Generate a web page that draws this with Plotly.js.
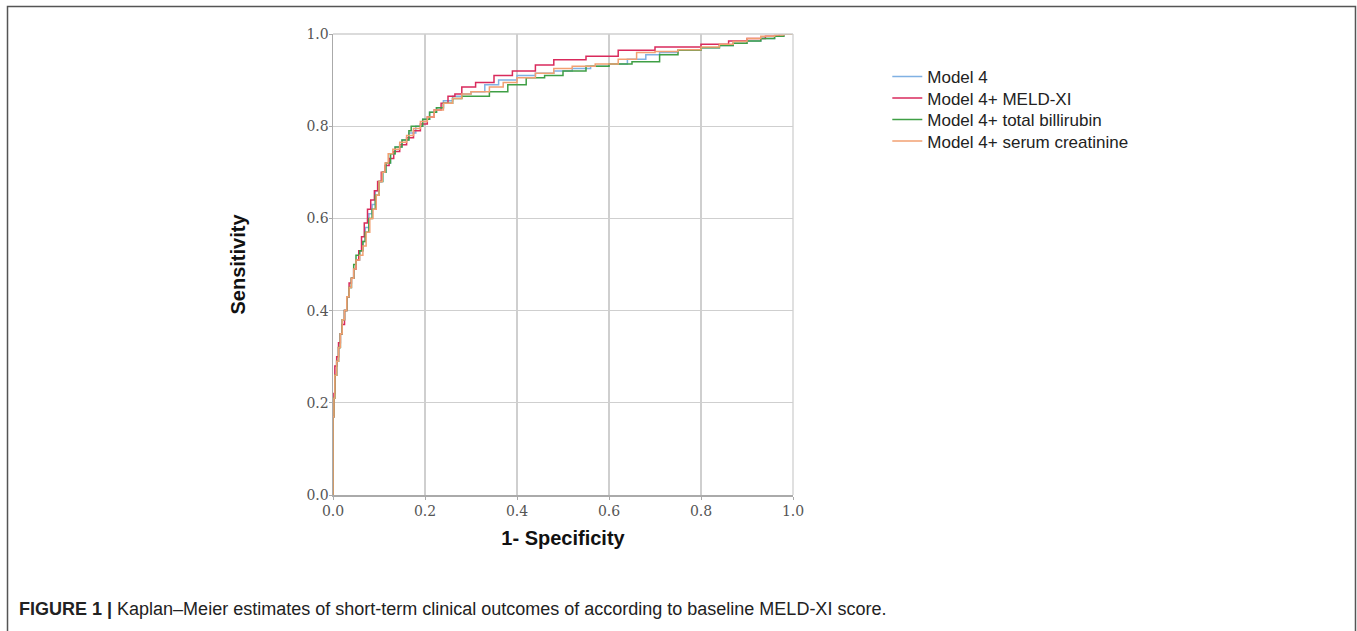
<!DOCTYPE html>
<html>
<head>
<meta charset="utf-8">
<script src="https://cdn.plot.ly/plotly-3.0.1.min.js"></script>
<style>html,body{margin:0;padding:0;background:#fff;}</style>
</head>
<body>
<div id="chart" style="width:1357px;height:631px;"></div>
<script>
// Series names
const seriesNames = ["Model 4", "Model 4+ MELD-XI", "Model 4+ total billirubin", "Model 4+ serum creatinine"];

// ROC points (1 - specificity, sensitivity)
const fprModel4 = [0,0,0.002,0.004,0.008,0.012,0.016,0.02,0.025,0.03,0.035,0.04,0.045,0.05,0.058,0.065,0.07,0.078,0.085,0.092,0.10,0.108,0.115,0.125,0.135,0.15,0.165,0.18,0.195,0.21,0.225,0.24,0.26,0.28,0.30,0.33,0.36,0.40,0.44,0.48,0.52,0.56,0.60,0.64,0.68,0.71,0.75,0.80,0.84,0.87,0.90,0.93,0.96,0.98,1.0];
const tprModel4 = [0,0.10,0.17,0.21,0.26,0.29,0.32,0.35,0.38,0.40,0.43,0.45,0.47,0.49,0.51,0.53,0.55,0.58,0.61,0.63,0.66,0.68,0.70,0.72,0.74,0.755,0.77,0.785,0.80,0.815,0.83,0.84,0.855,0.865,0.87,0.875,0.89,0.90,0.91,0.915,0.92,0.925,0.93,0.935,0.945,0.955,0.96,0.965,0.97,0.975,0.98,0.985,0.99,0.995,1.0];

const fprMeld = [0,0,0.002,0.004,0.008,0.012,0.016,0.02,0.025,0.03,0.035,0.04,0.045,0.05,0.056,0.062,0.068,0.075,0.082,0.09,0.097,0.105,0.113,0.122,0.132,0.145,0.16,0.175,0.19,0.205,0.22,0.235,0.25,0.265,0.28,0.31,0.35,0.39,0.44,0.48,0.55,0.62,0.70,0.80,0.86,0.90,0.94,0.97,0.987,1.0];
const tprMeld = [0,0.10,0.17,0.22,0.28,0.30,0.33,0.35,0.37,0.40,0.43,0.46,0.47,0.49,0.51,0.53,0.56,0.59,0.62,0.64,0.66,0.68,0.70,0.715,0.73,0.745,0.76,0.775,0.79,0.805,0.82,0.835,0.85,0.865,0.87,0.885,0.895,0.91,0.92,0.933,0.944,0.952,0.965,0.972,0.978,0.985,0.99,0.995,1.0,1.0];

const fprBili = [0,0,0.002,0.004,0.008,0.012,0.016,0.02,0.025,0.03,0.035,0.04,0.045,0.05,0.058,0.065,0.07,0.078,0.085,0.092,0.10,0.108,0.115,0.125,0.135,0.15,0.165,0.17,0.195,0.21,0.225,0.24,0.26,0.28,0.30,0.34,0.38,0.42,0.46,0.50,0.55,0.60,0.65,0.71,0.75,0.80,0.84,0.87,0.90,0.93,0.96,0.98,1.0];
const tprBili = [0,0.10,0.17,0.21,0.26,0.29,0.32,0.35,0.38,0.40,0.43,0.45,0.47,0.50,0.52,0.53,0.55,0.57,0.60,0.62,0.65,0.68,0.70,0.72,0.74,0.755,0.77,0.79,0.80,0.815,0.83,0.84,0.85,0.86,0.865,0.865,0.875,0.89,0.905,0.91,0.92,0.93,0.935,0.94,0.955,0.965,0.97,0.975,0.98,0.985,0.99,0.995,1.0];

const fprCreat = [0,0,0.002,0.004,0.008,0.012,0.016,0.02,0.025,0.03,0.035,0.04,0.045,0.05,0.058,0.065,0.072,0.08,0.087,0.094,0.10,0.107,0.113,0.12,0.13,0.145,0.16,0.175,0.19,0.205,0.22,0.24,0.26,0.28,0.30,0.34,0.37,0.40,0.44,0.48,0.52,0.57,0.62,0.66,0.70,0.75,0.80,0.84,0.87,0.90,0.93,0.96,0.98,1.0];
const tprCreat = [0,0.10,0.17,0.21,0.26,0.29,0.32,0.35,0.38,0.40,0.43,0.45,0.47,0.49,0.51,0.52,0.54,0.57,0.60,0.62,0.65,0.68,0.70,0.72,0.74,0.75,0.765,0.78,0.795,0.81,0.82,0.835,0.85,0.86,0.87,0.875,0.885,0.895,0.905,0.915,0.925,0.93,0.935,0.945,0.96,0.962,0.966,0.972,0.978,0.984,0.99,0.995,0.998,1.0];

const seriesColors = ["#80b1e3", "#d92a5c", "#3f9f45", "#f2a072"];

// Axis ticks
const tickVals = [0, 0.2, 0.4, 0.6, 0.8, 1.0];
const tickText = ["0.0", "0.2", "0.4", "0.6", "0.8", "1.0"];

const xs = [fprModel4, fprMeld, fprBili, fprCreat];
const ys = [tprModel4, tprMeld, tprBili, tprCreat];
const legendIds = ["legend", "legend2", "legend3", "legend4"];

const traces = seriesNames.map((n, i) => ({
  type: "scatter", mode: "lines", name: n,
  x: xs[i], y: ys[i], legend: legendIds[i],
  line: {color: seriesColors[i], width: 1.5, shape: "vh"}
}));

const axisCommon = {
  range: [0, 1], tickvals: tickVals, ticktext: tickText,
  showgrid: true, gridcolor: "#cfcfcf", gridwidth: 1.3,
  zeroline: false, showline: true, linecolor: "#aaaaaa", linewidth: 1.5,
  ticks: "outside", ticklen: 3, tickcolor: "#aaaaaa",
  tickfont: {family: "DejaVu Serif, Liberation Serif, serif", size: 14, color: "#555555"},
  fixedrange: true
};

const legendRowPx = [77, 98.5, 120, 141.5];
function legendAt(py) {
  return {
    x: 1.205, y: (495 - py) / 461, xanchor: "left", yanchor: "middle",
    font: {family: "Liberation Sans, Arial, sans-serif", size: 17, color: "#222222"},
    bgcolor: "rgba(0,0,0,0)", itemwidth: 30
  };
}

const layout = {
  width: 1357, height: 631,
  margin: {l: 333, r: 564, t: 34, b: 136, pad: 0},
  paper_bgcolor: "#ffffff", plot_bgcolor: "#ffffff",
  showlegend: true,
  legend: legendAt(legendRowPx[0]),
  legend2: legendAt(legendRowPx[1]),
  legend3: legendAt(legendRowPx[2]),
  legend4: legendAt(legendRowPx[3]),
  xaxis: Object.assign({}, axisCommon, {
    title: {text: "1- Specificity", font: {family: "Liberation Sans, Arial, sans-serif", size: 20, color: "#111111", weight: "bold"}, standoff: 12}
  }),
  yaxis: Object.assign({}, axisCommon, {
    ticklabelstandoff: -3,
    title: {text: "Sensitivity", font: {family: "Liberation Sans, Arial, sans-serif", size: 20, color: "#111111", weight: "bold"}, standoff: 55}
  }),
  shapes: [
    {type: "line", xref: "paper", yref: "paper", x0: 0, x1: 1, y0: 1, y1: 1, line: {color: "#cfcfcf", width: 1.3}},
    {type: "line", xref: "paper", yref: "paper", x0: 1, x1: 1, y0: 0, y1: 1, line: {color: "#cfcfcf", width: 1.3}},
    {type: "rect", xref: "paper", yref: "paper", x0: -0.7076, x1: 2.2228, y0: -0.33, y1: 1.0597, line: {color: "#555555", width: 1.5}, fillcolor: "rgba(0,0,0,0)"}
  ],
  annotations: [
    {xref: "paper", yref: "paper", x: -0.687, y: -0.2473, xanchor: "left", yanchor: "middle", showarrow: false,
     align: "left",
     text: "<b>FIGURE 1 |</b> Kaplan–Meier estimates of short-term clinical outcomes of according to baseline MELD-XI score.",
     font: {family: "Liberation Sans, Arial, sans-serif", size: 18, color: "#222222"}}
  ]
};

Plotly.newPlot("chart", traces, layout, {displayModeBar: false, staticPlot: true});
</script>
</body>
</html>
